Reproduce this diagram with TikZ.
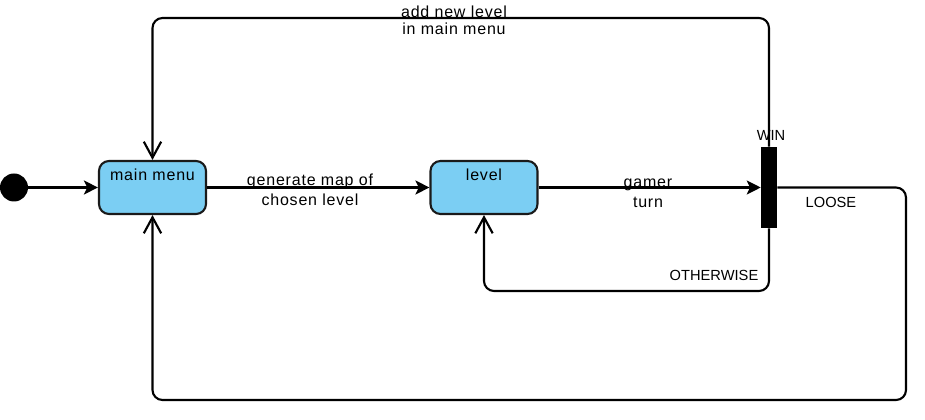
\documentclass[tikz,border=0pt]{standalone}
\usepackage{fontspec}
\setmainfont{Liberation Sans}
\newfontfamily\spacedfont[LetterSpace=5]{Liberation Sans}
\usetikzlibrary{arrows.meta}
\definecolor{boxblue}{HTML}{7BCEF3}
\definecolor{edgegray}{HTML}{1A1A1A}
\tikzset{
  statebox/.style={draw=edgegray, line width=1.6pt, fill=boxblue, rounded corners=7.5pt,
    minimum width=80.25pt, minimum height=39.75pt, inner sep=0pt},
  inittxt/.style={font=\spacedfont\fontsize{12}{14}\selectfont},
  edgelab/.style={font=\spacedfont\fontsize{12}{14}\selectfont, align=center, inner sep=0pt},
  guardlab/.style={font=\fontsize{11}{12}\selectfont, inner sep=0pt},
  filledarrow/.style={draw=black, line width=1.6pt, -{Stealth[length=10.5pt,width=10.5pt,inset=2.5pt]}},
  openarrow/.style={draw=black, line width=1.6pt, rounded corners=7.5pt,
    -{Straight Barb[length=12pt,width=13pt,line width=1.6pt]}},
  barstyle/.style={fill=black, draw=none, minimum width=12pt, minimum height=60.75pt, inner sep=0pt},
}
\begin{document}
\begin{tikzpicture}[x=0.75pt, y=-0.75pt]
\useasboundingbox (0,0) rectangle (925,420);
% nodes
\node[circle, fill=black, minimum size=21pt, inner sep=0pt] (init) at (14,187.5) {};
\node[statebox, label={[inittxt, yshift=9.4pt]center:main menu}] (mm) at (152.5,187.5) {};
\node[statebox, label={[inittxt, yshift=9.4pt]center:level}] (lvl) at (484,187.5) {};
\node[barstyle] (bar) at (769,187.5) {};
% corner coordinates
\coordinate (topR) at (769,18);
\coordinate (topL) at (152.5,18);
\coordinate (looseR) at (906,187.5);
\coordinate (looseRB) at (906,400);
\coordinate (looseLB) at (152.5,400);
\coordinate (othR) at (769,291);
\coordinate (othL) at (484,291);
% edges
\draw[filledarrow] (init) -- (mm);
\draw[filledarrow] (mm) -- (lvl);
\draw[filledarrow] (lvl) -- (bar);
\draw[openarrow] (bar.north) -- (topR) -- (topL) -- (mm.north);
\draw[openarrow] (bar.east) -- (looseR) -- (looseRB) -- (looseLB) -- (mm.south);
\draw[openarrow] (bar.south) -- (othR) -- (othL) -- (lvl.south);
% labels
\node[edgelab] (l1) at (310,190) {generate map of\\[1pt]chosen level};
\node[edgelab] (l2) at (648,193) {gamer\\[1pt]turn};
\node[edgelab] (l3) at (454,20.5) {add new level\\[-1.5pt]in main menu};
\node[guardlab] (wl) at (771,135) {WIN};
\node[guardlab] (ll) at (831,202) {LOOSE};
\node[guardlab] (ol) at (714,275) {OTHERWISE};
\end{tikzpicture}
\end{document}
